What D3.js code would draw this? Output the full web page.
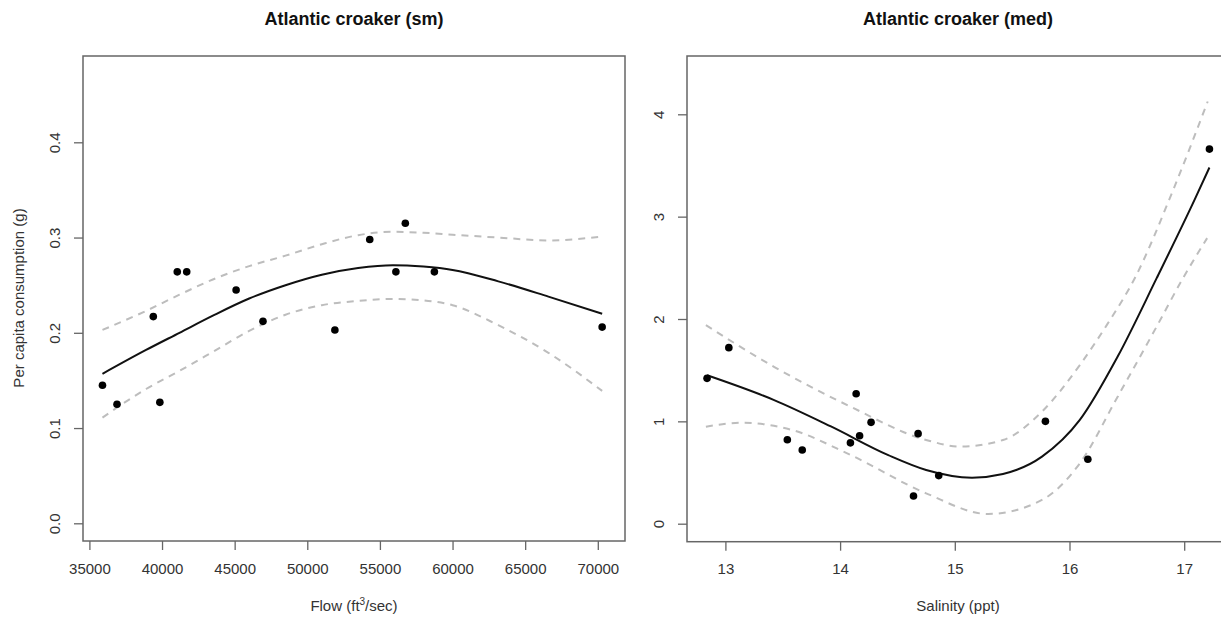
<!DOCTYPE html>
<html>
<head>
<meta charset="utf-8">
<script src="https://cdn.jsdelivr.net/npm/d3@7"></script>
<style>
  body { margin: 0; background: #fff; }
  svg { font-family: "Liberation Sans", Arial, Helvetica, sans-serif; }
</style>
</head>
<body>
<script>
// ---- Atlantic croaker (sm): consumption vs flow ----
const flowX = [35900, 36900, 39850, 39400, 41050, 41700, 45100, 46950, 51900, 54300, 56750, 56100, 58750, 70300];
const consSm = [0.145, 0.125, 0.127, 0.217, 0.264, 0.264, 0.245, 0.212, 0.203, 0.298, 0.315, 0.264, 0.264, 0.206];

// fitted curve and 95% band, read at the same flows
const fitSmX = [35900, 38900, 41200, 43500, 46000, 48500, 51000, 53500, 55900, 58000, 60000, 63150, 66600, 70300];
const fitSmY = [0.157, 0.182, 0.200, 0.218, 0.236, 0.250, 0.261, 0.268, 0.271, 0.2695, 0.266, 0.254, 0.238, 0.220];
const uprSmY = [0.203, 0.223, 0.240, 0.256, 0.270, 0.281, 0.293, 0.3025, 0.306, 0.305, 0.303, 0.300, 0.297, 0.301];
const lwrSmY = [0.111, 0.141, 0.160, 0.180, 0.202, 0.219, 0.229, 0.2335, 0.2356, 0.234, 0.229, 0.208, 0.179, 0.139];

const flowTicks = [35000, 40000, 45000, 50000, 55000, 60000, 65000, 70000];
const smTicks = [0, 0.1, 0.2, 0.3, 0.4];

// ---- Atlantic croaker (med): consumption vs salinity ----
const salX = [12.84, 13.03, 13.54, 13.67, 14.09, 14.14, 14.17, 14.27, 14.64, 14.68, 14.86, 15.79, 16.16, 17.22];
const consMed = [1.42, 1.72, 0.82, 0.72, 0.79, 1.27, 0.86, 0.99, 0.27, 0.88, 0.47, 1.00, 0.63, 3.66];

const fitMedX = [12.84, 13.42, 13.92, 14.42, 14.75, 15.15, 15.42, 15.76, 16.09, 16.42, 16.76, 17.09, 17.22];
const fitMedY = [1.45, 1.21, 0.95, 0.67, 0.525, 0.45, 0.486, 0.655, 1.014, 1.633, 2.399, 3.164, 3.48];

const uprMedX = [12.83, 13.42, 14.09, 14.75, 15.05, 15.42, 15.76, 16.09, 16.33, 16.57, 16.9, 17.205];
const uprMedY = [1.94, 1.535, 1.144, 0.818, 0.753, 0.818, 1.095, 1.55, 1.95, 2.40, 3.25, 4.125];

const lwrMedX = [12.83, 13.15, 13.58, 14.09, 14.75, 15.29, 15.76, 16.09, 16.42, 16.76, 16.99, 17.2];
const lwrMedY = [0.948, 0.987, 0.916, 0.672, 0.297, 0.095, 0.232, 0.59, 1.241, 1.926, 2.40, 2.79];

const salTicks = [13, 14, 15, 16, 17];
const medTicks = [0, 1, 2, 3, 4];

window.onload = function () {

  const W = 1221, H = 619;

  const SVG = d3.select('body')
                .append('svg')
                .attr('width', W)
                .attr('height', H);

  function zip(a, b) { return a.map((v, i) => [v, b[i]]); }

  function drawPanel(p) {
    const g = SVG.append('g');

    const xScale = d3.scaleLinear().domain(p.xCal).range(p.xPix);
    const yScale = d3.scaleLinear().domain(p.yCal).range(p.yPix);

    // title
    g.append('text')
      .attr('x', (p.box.left + p.box.right) / 2)
      .attr('y', 25)
      .attr('text-anchor', 'middle')
      .attr('font-size', 18)
      .attr('font-weight', 'bold')
      .attr('fill', '#111')
      .text(p.title);

    // x axis
    const xAxis = d3.axisBottom(xScale).tickValues(p.xTicks).tickSize(9).tickPadding(13).tickFormat(d3.format('d'));
    const gx = g.append('g')
      .attr('transform', `translate(0, ${p.box.bottom})`)
      .call(xAxis);
    gx.select('.domain').remove();
    gx.selectAll('line').attr('stroke', '#666').attr('stroke-width', 1.3);
    gx.selectAll('text').attr('font-size', 15).attr('fill', '#333');

    // y axis, labels rotated like R
    const yAxis = d3.axisLeft(yScale).tickValues(p.yTicks).tickSize(9).tickFormat(p.yFmt);
    const gy = g.append('g')
      .attr('transform', `translate(${p.box.left}, 0)`)
      .call(yAxis);
    gy.select('.domain').remove();
    gy.selectAll('line').attr('stroke', '#666').attr('stroke-width', 1.3);
    gy.selectAll('text')
      .attr('font-size', 15)
      .attr('fill', '#333')
      .attr('text-anchor', 'middle')
      .attr('transform', 'rotate(-90)')
      .attr('x', 0)
      .attr('y', -23)
      .attr('dy', 0);

    // box
    g.append('rect')
      .attr('x', p.box.left)
      .attr('y', p.box.top)
      .attr('width', p.box.right - p.box.left)
      .attr('height', p.box.bottom - p.box.top)
      .attr('fill', 'none')
      .attr('stroke', '#666')
      .attr('stroke-width', 1.5);

    const line = d3.line()
      .x(d => xScale(d[0]))
      .y(d => yScale(d[1]))
      .curve(d3.curveMonotoneX);

    // confidence bands
    [p.upr, p.lwr].forEach(band => {
      g.append('path')
        .datum(band)
        .attr('d', line)
        .attr('fill', 'none')
        .attr('stroke', '#bdbdbd')
        .attr('stroke-width', 2)
        .attr('stroke-dasharray', '7,6');
    });

    // fitted curve
    g.append('path')
      .datum(p.fit)
      .attr('d', line)
      .attr('fill', 'none')
      .attr('stroke', '#111')
      .attr('stroke-width', 2);

    // observations
    g.selectAll('circle.pt')
      .data(p.pts)
      .enter()
      .append('circle')
      .attr('class', 'pt')
      .attr('cx', d => xScale(d[0]))
      .attr('cy', d => yScale(d[1]))
      .attr('r', 3.8)
      .attr('fill', '#000');

    // x label
    const xl = g.append('text')
      .attr('x', (p.box.left + p.box.right) / 2)
      .attr('y', 611)
      .attr('text-anchor', 'middle')
      .attr('font-size', 15)
      .attr('fill', '#333');
    p.xLabel(xl);

    return g;
  }

  drawPanel({
    title: 'Atlantic croaker (sm)',
    box: { left: 83, right: 625, top: 56, bottom: 541 },
    xCal: [35000, 70000], xPix: [89.4, 597.8],
    yCal: [0, 0.4], yPix: [523.3, 142.3],
    xTicks: flowTicks, yTicks: smTicks, yFmt: d3.format('.1f'),
    pts: zip(flowX, consSm),
    fit: zip(fitSmX, fitSmY),
    upr: zip(fitSmX, uprSmY),
    lwr: zip(fitSmX, lwrSmY),
    xLabel: t => {
      t.append('tspan').text('Flow (ft');
      t.append('tspan').attr('font-size', 10).attr('dy', -6).text('3');
      t.append('tspan').attr('dy', 6).text('/sec)');
    }
  });

  drawPanel({
    title: 'Atlantic croaker (med)',
    box: { left: 687, right: 1229, top: 56, bottom: 541.7 },
    xCal: [13, 17], xPix: [725.4, 1184.2],
    yCal: [0, 4], yPix: [523.7, 114.3],
    xTicks: salTicks, yTicks: medTicks, yFmt: d3.format('d'),
    pts: zip(salX, consMed),
    fit: zip(fitMedX, fitMedY),
    upr: zip(uprMedX, uprMedY),
    lwr: zip(lwrMedX, lwrMedY),
    xLabel: t => t.text('Salinity (ppt)')
  });

  // y axis title (left panel only)
  SVG.append('text')
    .attr('transform', 'translate(24, 298) rotate(-90)')
    .attr('text-anchor', 'middle')
    .attr('font-size', 15)
    .attr('fill', '#333')
    .text('Per capita consumption (g)');
}
</script>
</body>
</html>
